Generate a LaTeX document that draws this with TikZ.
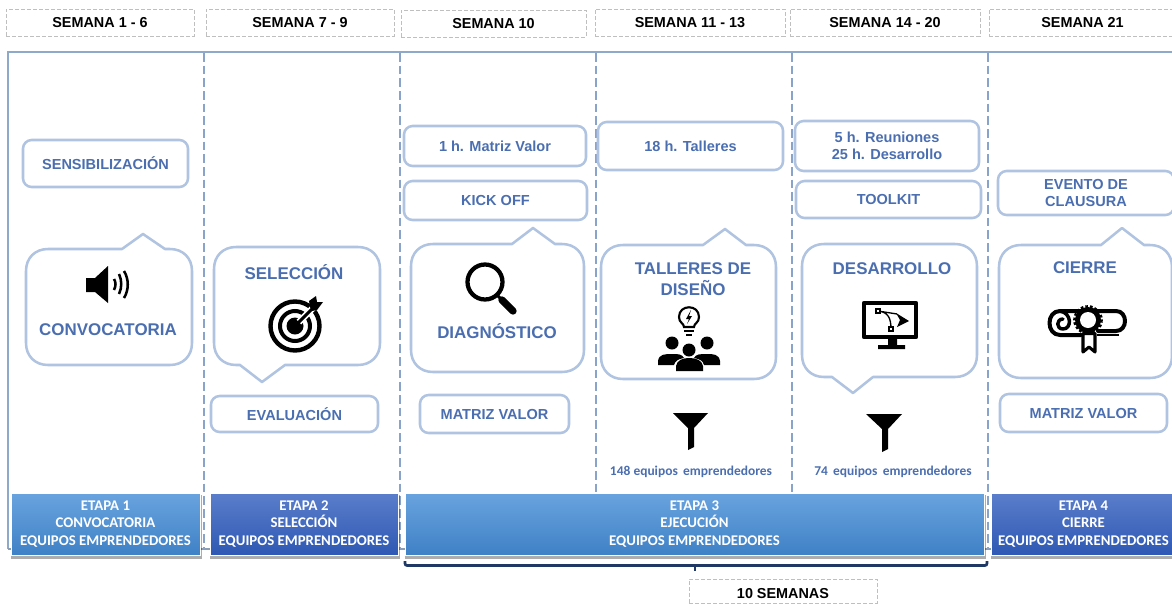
\documentclass[tikz,border=0pt]{standalone}
\usepackage{fontspec}
\setmainfont{Liberation Sans}
\newfontfamily\bandfont{Carlito}
\definecolor{txtblue}{HTML}{4A6EB0}
\definecolor{edgeblue}{HTML}{B0C3E0}
\definecolor{frameblue}{HTML}{8FA9CB}
\definecolor{dashblue}{HTML}{8AA3CB}
\definecolor{navy}{HTML}{1F3864}
\newcommand\pb[7]{\node[#1,minimum width={(#5-#3)*.75pt},minimum height={(#6-#4)*.75pt}] (#2) at ({(#3+#5)/2},{(#4+#6)/2}) {#7};}
\newcommand\calloutTop[8]{\draw[calloutline] (#5,#2) -- (#6,#7) -- (#8,#2)
 -- ({#3-22},#2) .. controls ({#3-9},#2) and (#3,{#2+9}) .. (#3,{#2+22})
 -- (#3,{#4-22}) .. controls (#3,{#4-9}) and ({#3-9},#4) .. ({#3-22},#4)
 -- ({#1+22},#4) .. controls ({#1+9},#4) and (#1,{#4-9}) .. (#1,{#4-22})
 -- (#1,{#2+22}) .. controls (#1,{#2+9}) and ({#1+9},#2) .. ({#1+22},#2) -- cycle;}
\newcommand\calloutBot[8]{\draw[calloutline] (#5,#4) -- (#6,#7) -- (#8,#4)
 -- ({#3-22},#4) .. controls ({#3-9},#4) and (#3,{#4-9}) .. (#3,{#4-22})
 -- (#3,{#2+22}) .. controls (#3,{#2+9}) and ({#3-9},#2) .. ({#3-22},#2)
 -- ({#1+22},#2) .. controls ({#1+9},#2) and (#1,{#2+9}) .. (#1,{#2+22})
 -- (#1,{#4-22}) .. controls (#1,{#4-9}) and ({#1+9},#4) .. ({#1+22},#4) -- cycle;}
\definecolor{bandAa}{HTML}{69A3DF}
\definecolor{bandAb}{HTML}{3F81C6}
\definecolor{bandBa}{HTML}{5B7ECB}
\definecolor{bandBb}{HTML}{2E58B4}
\tikzset{
 x=.75pt,y=-.75pt,
 hdr/.style={draw=black!25,line width=.5pt,dash pattern=on 3pt off 1.5pt,inner sep=0pt,font=\fontsize{10.8}{13}\selectfont\bfseries,text=black},
 tbox/.style={draw=edgeblue,line width=1.9pt,rounded corners=6.5pt,inner sep=0pt,align=center,font=\fontsize{10.9}{13}\selectfont\bfseries,text=txtblue},
 calloutline/.style={draw=edgeblue,line width=1.9pt,line join=round,fill=white},
 bigt/.style={inner sep=0pt,align=center,font=\fontsize{12.7}{15.7}\selectfont\bfseries,text=txtblue},
 bandtext/.style={draw=white,line width=.4pt,inner sep=0pt,align=center,text=white,font=\bandfont\fontsize{11.1}{13.1}\selectfont\bfseries,execute at begin node=\rule{0pt}{9.2pt}},
 bandA/.style={bandtext,top color=bandAa,bottom color=bandAb},
 bandB/.style={bandtext,top color=bandBa,bottom color=bandBb},
 small/.style={inner sep=0pt,text=txtblue,font=\bandfont\fontsize{10.1}{12}\selectfont\bfseries},
 vdash/.style={draw=dashblue,line width=.9pt,dash pattern=on 6.5pt off 3pt},
 frameline/.style={draw=frameblue,line width=1.3pt},
 ink/.style={draw=black,line width=2.7pt},
 inkthin/.style={draw=black,line width=1.5pt},
 shadowbox/.style={fill=black,draw=none,opacity=.32},
}
\begin{document}
\begin{tikzpicture}
\useasboundingbox (0,0) rectangle (1172,604);
% frame
\draw[frameline] (8,549) -- (8,52) -- (1172,52);
\draw[frameline,draw=frameblue!70!gray] (8,549) -- (1172,549);
\foreach \vx in {204,400,596,792,988} \draw[vdash] (\vx,53) -- (\vx,549);
% week headers
\pb{hdr}{h1}{6}{9}{194}{36}{SEMANA 1 - 6}
\pb{hdr}{h2}{206}{9}{394}{36}{SEMANA 7 - 9}
\pb{hdr}{h3}{401}{10}{586}{37}{SEMANA 10}
\pb{hdr}{h4}{595}{9}{785}{36}{SEMANA 11 - 13}
\pb{hdr}{h5}{790}{9}{980}{36}{SEMANA 14 - 20}
\pb{hdr}{h6}{989}{9}{1176}{36}{SEMANA 21}
% small boxes
\pb{tbox}{sens}{23}{140}{188}{187}{SENSIBILIZACIÓN}
\pb{tbox}{eval}{211}{396}{378}{432}{EVALUACIÓN}
\pb{tbox}{mat}{404}{126}{586}{166}{1 h. Matriz Valor}
\pb{tbox}{kick}{404}{181}{587}{220}{KICK OFF}
\pb{tbox}{mv1}{420}{395}{569}{433}{MATRIZ VALOR}
\pb{tbox}{tal}{598}{122}{783}{170}{18 h. Talleres}
\pb{tbox}{reu}{795}{121}{979}{171}{5 h. Reuniones\\25 h. Desarrollo}
\pb{tbox}{tool}{796}{181}{981}{218}{TOOLKIT}
\pb{tbox}{evc}{998}{171}{1174}{215}{EVENTO DE\\CLAUSURA}
\pb{tbox}{mv2}{1000}{394}{1167}{432}{MATRIZ VALOR}
% callouts
\calloutTop{26}{249}{192}{365}{122}{143}{234}{165}
\calloutBot{214}{247}{380}{365}{240}{262}{382}{285}
\calloutTop{411}{244}{584}{372}{512}{533}{228}{555}
\calloutTop{601}{245}{776}{379}{703}{725}{229}{746}
\calloutBot{802}{244}{977}{377}{832}{853}{393}{873}
\calloutTop{999}{245}{1172}{378}{1101}{1122}{228}{1144}
% callout titles
\node[bigt] (conv) at (108,330) {CONVOCATORIA};
\node[bigt] (sel) at (294,272.5) {SELECCIÓN};
\node[bigt] (diag) at (497,331.5) {DIAGNÓSTICO};
\node[bigt] (dis) at (693,279) {TALLERES DE\\DISEÑO};
\node[bigt] (des) at (892,269) {DESARROLLO};
\node[bigt] (cie) at (1085,268) {CIERRE};
% speaker
\fill[black] (86,278) -- (95,278) -- (108,266) -- (108,303) -- (95,292) -- (86,292) -- cycle;
\draw[inkthin,line width=1.9pt] (114,279) .. controls (116,282) and (116,286) .. (114,290);
\draw[inkthin,line width=1.9pt] (119,274) .. controls (122,280) and (122,288) .. (119,294);
\draw[inkthin,line width=1.9pt] (124,271) .. controls (129,279) and (129,290) .. (124,298);
% target
\draw[ink,line width=3.3pt] (295,326) circle (24.5);
\draw[ink,line width=3pt] (295,326) circle (15);
\fill[black] (295,326) circle (8.5);
\draw[white,line width=5pt] (299,322) -- (322,299);
\draw[black,line width=2.2pt] (295,326) -- (312,309);
\fill[black] (310,307) -- (309,301) -- (316,296) -- (317,302) -- (323,302) -- (317,310) -- (312,311) -- cycle;
% magnifier
\draw[ink,line width=3.2pt] (485,282) circle (17.5);
\draw[inkthin,line width=2.2pt] (497,295) -- (503,301);
\draw[black,line width=5.5pt,line cap=round] (502,300) -- (513,311);
% bulb and people
\draw[inkthin,line width=1.6pt] (684,327) .. controls (684,323) and (679,323) .. (679,317) .. controls (679,304) and (699,304) .. (699,317) .. controls (699,323) and (694,323) .. (694,327) -- cycle;
\fill[black] (691,310) -- (686,319) -- (689,319) -- (687,324) -- (692,316) -- (689,316) -- cycle;
\draw[inkthin,line width=1.4pt] (684,331) -- (694,331) (686,335) -- (692,335);
\fill[black] (672,343) circle (6.5) (707,343) circle (6.5) (689,350) circle (6.5);
\fill[black] (658,365) -- (658,361) .. controls (659,354) and (665,354) .. (672,354) .. controls (678,354) and (682,354) .. (684,358) .. controls (678,359) and (675,361) .. (674,365) -- cycle;
\fill[black] (720,365) -- (720,361) .. controls (719,354) and (713,354) .. (707,354) .. controls (700,354) and (696,354) .. (694,358) .. controls (700,359) and (703,361) .. (704,365) -- cycle;
\fill[black] (676,371) -- (676,366) .. controls (677,360) and (683,358) .. (689,358) .. controls (696,358) and (702,360) .. (703,366) -- (703,371) -- cycle;
% monitor
\draw[ink,line width=3.2pt,line join=round] (864,303) rectangle (916,337);
\fill[black] (888,338) rectangle (897,345) (878,345) rectangle (905,349);
\draw[inkthin,line width=1pt] (878,311) -- (897,314) (878,311) .. controls (888,312) and (891,318) .. (891,329);
\fill[white,draw=black,line width=.9pt] (876,309) rectangle (880,313) (889,327) rectangle (893,331);
\fill[black] (909,321) -- (896,313) -- (900,320) -- (897,327) -- cycle;
% diploma
\draw[ink,line width=3pt,line join=round,line cap=round] (1060,311) -- (1116,311) .. controls (1128,311) and (1128,331) .. (1116,331) -- (1098,331);
\draw[ink,line width=3pt,line join=round,line cap=round] (1060,311) .. controls (1046,311) and (1046,335) .. (1060,335) -- (1081,335);
\draw[ink,line width=2.6pt,line join=round,line cap=round] (1060,311) .. controls (1072,313) and (1072,329) .. (1063,329) .. controls (1056,329) and (1056,319) .. (1063,319);
\draw[ink,line width=2pt] (1097,335) -- (1119,335);
\fill[black] (1088,320) circle (13);
\draw[black,line width=2pt,dash pattern=on 2pt off 1.5pt] (1088,320) circle (13.5);
\fill[white] (1088,320) circle (8);
\draw[fill=white,draw=black,line width=2.3pt,line join=round] (1083,333.5) -- (1083,352) -- (1089,347) -- (1095,352) -- (1095,333.5) -- cycle;
% funnels
\fill[black] (673,413) -- (708,413) -- (694,428) -- (694,447) -- (688,450) -- (688,428) -- cycle;
\fill[black] (866,414) -- (902,414) -- (888,429) -- (888,449) -- (882,452) -- (882,429) -- cycle;
\node[small] (n148) at (691,472) {148 equipos\, emprendedores};
\node[small] (n74) at (893,472) {74\, equipos\, emprendedores};
% shadows
\foreach \xa/\xb in {11/200,210/398,405/984,991/1172}
  \fill[shadowbox] (\xa,495) rectangle (\xb+1.5,559);
% bands
\pb{bandA}{e1}{11}{493}{200}{555}{ETAPA 1\\CONVOCATORIA\\EQUIPOS EMPRENDEDORES}
\pb{bandB}{e2}{210}{493}{398}{555}{ETAPA 2\\SELECCIÓN\\EQUIPOS EMPRENDEDORES}
\pb{bandA}{e3}{405}{493}{984}{555}{ETAPA 3\\EJECUCIÓN\\EQUIPOS EMPRENDEDORES}
\pb{bandB}{e4}{991}{493}{1176}{555}{ETAPA 4\\CIERRE\\EQUIPOS EMPRENDEDORES}
% brace
\draw[navy,line width=2pt,rounded corners=1.5pt] (405,561) -- (405,565.5) -- (987,565.5) -- (987,561);
\draw[navy,line width=2pt] (695,565.5) -- (695,571);
\pb{hdr,execute at begin node=\rule{0pt}{10.8pt}}{h7}{689}{579}{877}{603}{10 SEMANAS}
\end{tikzpicture}
\end{document}
